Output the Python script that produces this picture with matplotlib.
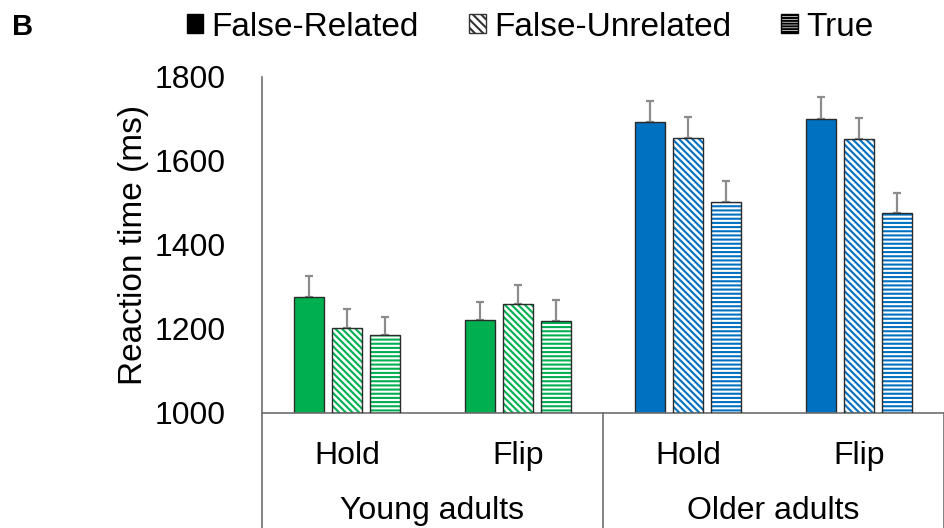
import matplotlib
matplotlib.use('Agg')
import matplotlib.pyplot as plt
from matplotlib.patches import Patch
from matplotlib.transforms import blended_transform_factory

plt.rcParams['font.family'] = ['Liberation Sans', 'DejaVu Sans']
plt.rcParams['hatch.linewidth'] = 1.5

groups = ['Young adults', 'Older adults']
conditions = ['Hold', 'Flip', 'Hold', 'Flip']
series = ['False-Related', 'False-Unrelated', 'True']

# mean reaction times (ms), one list per series, order: young hold, young flip, older hold, older flip
false_related = [1276, 1221, 1693, 1700]
false_unrelated = [1202, 1260, 1655, 1652]
true_vals = [1186, 1219, 1502, 1476]

# upper error bars (ms)
err_related = [50, 43, 50, 52]
err_unrelated = [46, 45, 50, 50]
err_true = [43, 50, 50, 48]

green = '#00b050'
blue = '#0070c0'
bar_colors = [green, green, blue, blue]
hatches = [None, '\\\\\\\\\\', '----']

fig = plt.figure(figsize=(9.44, 5.28), dpi=100)
ax = fig.add_axes([262 / 944, 115 / 528, 682 / 944, 336 / 528])

values = [false_related, false_unrelated, true_vals]
errors = [err_related, err_unrelated, err_true]
width = 0.176
step = 0.223

for s in range(3):
    xs = [i + 0.5 + (s - 1) * step for i in range(4)]
    for x, v, c in zip(xs, values[s], bar_colors):
        if hatches[s] is None:
            ax.bar(x, v - 1000, width, bottom=1000, color=c, edgecolor='#2b2b2b', linewidth=1.0, zorder=2)
        else:
            ax.bar(x, v - 1000, width, bottom=1000, color='white', edgecolor=c, hatch=hatches[s], linewidth=0, zorder=2)
            ax.bar(x, v - 1000, width, bottom=1000, fill=False, edgecolor='#2b2b2b', linewidth=1.0, zorder=3)
    ax.errorbar(xs, values[s], yerr=[[0] * 4, errors[s]], fmt='none', ecolor='#8c8c8c', elinewidth=1.6, capsize=3, capthick=1.6, zorder=1)

ax.set_xlim(0, 4)
ax.set_ylim(1000, 1800)
ax.set_yticks([1000, 1200, 1400, 1600, 1800])
ax.set_xticks([0.5, 1.5, 2.5, 3.5])
ax.set_xticklabels(conditions)
ax.tick_params(axis='y', length=0, pad=26, labelsize=23)
ax.tick_params(axis='x', length=0, pad=20, labelsize=23)
ax.set_ylabel('Reaction time (ms)', fontsize=24, labelpad=4)

for side in ['top', 'right']:
    ax.spines[side].set_visible(False)
ax.spines['left'].set_color('#6e6e6e')
ax.spines['bottom'].set_color('#6e6e6e')
ax.spines['left'].set_linewidth(1.2)
ax.spines['bottom'].set_linewidth(1.2)

# group separators and labels below the axis
tr = blended_transform_factory(ax.transData, ax.transAxes)
for x in [0, 2, 4]:
    ax.plot([x, x], [0, -0.35], transform=tr, color='#6e6e6e', lw=1.2, clip_on=False)
for i, g in enumerate(groups):
    ax.text(2 * i + 1, -0.292, g, transform=tr, ha='center', va='center', fontsize=23)

handles = [
    Patch(facecolor='black', edgecolor='black'),
    Patch(facecolor='white', edgecolor='#333333', hatch='\\\\\\\\'),
    Patch(facecolor='white', edgecolor='black', hatch='------'),
]
fig.legend(handles, series, loc='center', bbox_to_anchor=(530 / 944, 1 - 27 / 528), ncol=3,
           frameon=False, fontsize=24, handlelength=0.5, handleheight=0.5,
           handletextpad=0.25, columnspacing=1.5, borderaxespad=0)

fig.text(12 / 944, 1 - 27 / 528, 'B', fontsize=21, fontweight='bold', va='center', ha='left')

fig.savefig('out.png', dpi=100)
